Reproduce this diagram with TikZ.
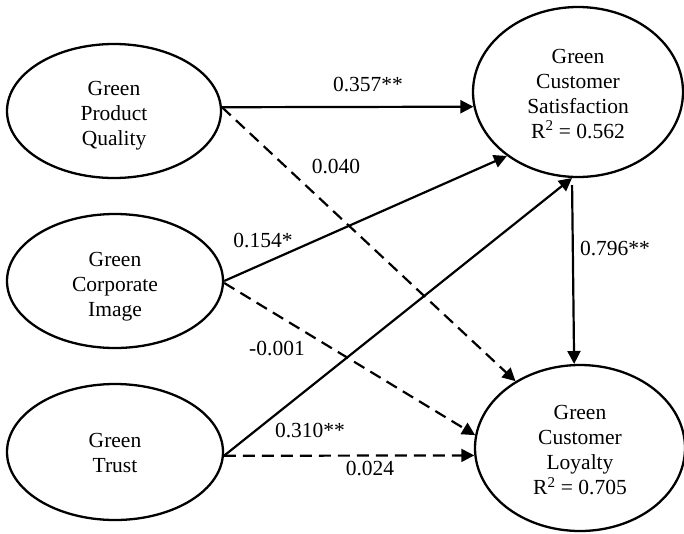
\documentclass[tikz,border=0pt]{standalone}
\usepackage{fontspec}
\setmainfont{Liberation Serif}
\usetikzlibrary{shapes.geometric,arrows.meta}
\begin{document}
\begin{tikzpicture}[x=1pt,y=-1pt,
  latent/.style={draw,line width=2.3pt,ellipse,inner sep=0pt},
  ltext/.style={align=center,inner sep=0pt,font=\fontsize{21.5}{25}\selectfont},
  coef/.style={font=\fontsize{21.5}{25}\selectfont,inner sep=0pt},
  path/.style={line width=2.2pt,-{Triangle[length=13pt,width=13pt]}},
  nspath/.style={path,dash pattern=on 12pt off 7pt}]
\useasboundingbox (0,0) rectangle (684,533);
\node[latent,minimum width=214pt,minimum height=134pt,
  label={[ltext,yshift=-5pt]center:Green\\Product\\Quality}] (gpq) at (114,111) {};
\node[latent,minimum width=216pt,minimum height=134pt,
  label={[ltext,yshift=-6pt]center:Green\\Corporate\\Image}] (gci) at (115,281) {};
\node[latent,minimum width=216pt,minimum height=136pt,
  label={[ltext,yshift=-1pt]center:Green\\Trust}] (gt) at (115,452) {};
\node[latent,minimum width=210pt,minimum height=170pt,
  label={[ltext,yshift=-2pt]center:Green\\Customer\\Satisfaction\\R\textsuperscript{2} = 0.562}] (gcs) at (578,92) {};
\node[latent,minimum width=210pt,minimum height=166pt,
  label={[ltext,yshift=-2.5pt]center:Green\\Customer\\Loyalty\\R\textsuperscript{2} = 0.705}] (gcl) at (580,448) {};
% paths
\draw[path] (gpq.2) -- (gcs.188);
\draw[nspath] (gpq.2) -- (gcl.134);
\draw[path] (gci.0.5) -- (gcs.222.5);
\draw[nspath] (gci.-1) -- (gcl.173);
\draw[path] (gt.-2) -- (gcs.266);
\draw[nspath] (gt.-2) -- (gcl.184.4);
\draw[path,shorten <=7pt] (gcs.266.6) -- (gcl.94.8);
% coefficients
\node[coef] (c1) at (368,85) {0.357**};
\node[coef] (c2) at (336,166) {0.040};
\node[coef] (c3) at (263,240) {0.154*};
\node[coef] (c4) at (277,348) {-0.001};
\node[coef] (c5) at (310,430) {0.310**};
\node[coef] (c6) at (370,468) {0.024};
\node[coef] (c7) at (615,248) {0.796**};
\end{tikzpicture}
\end{document}
